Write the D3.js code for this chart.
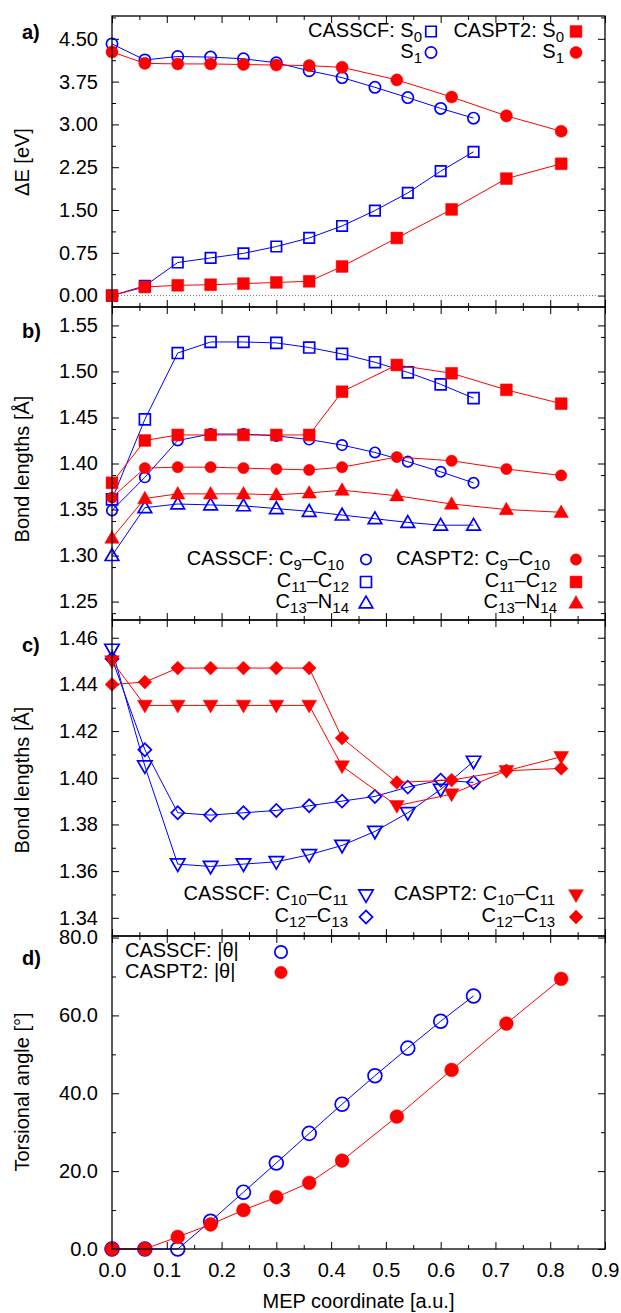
<!DOCTYPE html>
<html>
<head>
<meta charset="utf-8">
<script src="https://cdn.jsdelivr.net/npm/d3@7"></script>
<style>
  body { margin: 0; background: #fff; }
  svg { display: block; }
</style>
</head>
<body>
<svg id="chart" width="621" height="1313"></svg>
<script>
// MEP coordinates (CASSCF and CASPT2 paths are sampled differently)
var xSCF = [0.00, 0.06, 0.12, 0.18, 0.24, 0.30, 0.36, 0.42, 0.48, 0.54, 0.60, 0.66];
var xPT2 = [0.00, 0.06, 0.12, 0.18, 0.24, 0.30, 0.36, 0.42, 0.52, 0.62, 0.72, 0.82];

// a) energies [eV]
var scfS0 = [0.00, 0.17, 0.58, 0.66, 0.74, 0.86, 1.01, 1.22, 1.49, 1.80, 2.18, 2.52];
var scfS1 = [4.41, 4.13, 4.19, 4.18, 4.15, 4.08, 3.94, 3.82, 3.65, 3.47, 3.28, 3.11];
var pt2S0 = [0.00, 0.15, 0.18, 0.19, 0.21, 0.23, 0.25, 0.51, 1.01, 1.51, 2.05, 2.31];
var pt2S1 = [4.27, 4.07, 4.06, 4.06, 4.05, 4.04, 4.03, 4.00, 3.78, 3.48, 3.15, 2.88];

// b) bond lengths [A]
var scfC9C10  = [1.349, 1.385, 1.425, 1.432, 1.432, 1.430, 1.426, 1.420, 1.412, 1.402, 1.391, 1.379];
var scfC11C12 = [1.361, 1.448, 1.520, 1.532, 1.532, 1.531, 1.526, 1.519, 1.510, 1.499, 1.486, 1.471];
var scfC13N14 = [1.300, 1.352, 1.356, 1.355, 1.354, 1.351, 1.348, 1.344, 1.340, 1.336, 1.333, 1.333];
var pt2C9C10  = [1.363, 1.395, 1.396, 1.396, 1.395, 1.394, 1.393, 1.396, 1.407, 1.403, 1.394, 1.387];
var pt2C11C12 = [1.379, 1.425, 1.431, 1.431, 1.431, 1.431, 1.431, 1.478, 1.507, 1.498, 1.480, 1.465];
var pt2C13N14 = [1.319, 1.362, 1.367, 1.367, 1.367, 1.366, 1.368, 1.371, 1.365, 1.356, 1.350, 1.347];

// c) bond lengths [A]
var scfC10C11 = [1.455, 1.405, 1.363, 1.362, 1.363, 1.364, 1.367, 1.371, 1.377, 1.385, 1.395, 1.407];
var scfC12C13 = [1.451, 1.412, 1.385, 1.384, 1.385, 1.386, 1.388, 1.390, 1.392, 1.396, 1.399, 1.398];
var pt2C10C11 = [1.450, 1.431, 1.431, 1.431, 1.431, 1.431, 1.431, 1.405, 1.388, 1.393, 1.403, 1.409];
var pt2C12C13 = [1.440, 1.441, 1.447, 1.447, 1.447, 1.447, 1.447, 1.417, 1.398, 1.399, 1.403, 1.404];

// d) torsional angle [deg]
var scfTheta = [0.0, 0.0, 0.0, 7.1, 14.6, 22.1, 29.7, 37.2, 44.5, 51.6, 58.5, 65.0];
var pt2Theta = [0.0, 0.0, 3.1, 6.3, 10.0, 13.3, 17.0, 22.7, 34.0, 46.0, 57.9, 69.4];

// axis ticks
var xTicks = [0, 0.1, 0.2, 0.3, 0.4, 0.5, 0.6, 0.7, 0.8, 0.9];
var aTicks = [0, 0.75, 1.5, 2.25, 3.0, 3.75, 4.5];
var bTicks = [1.25, 1.30, 1.35, 1.40, 1.45, 1.50, 1.55];
var cTicks = [1.34, 1.36, 1.38, 1.40, 1.42, 1.44, 1.46];
var dTicks = [0, 20, 40, 60, 80];

var BLUE = '#0000ff', RED = '#ff0000';
var FONT = "'Liberation Sans', Arial, Helvetica, sans-serif";

var svg = d3.select('#chart');
var left = 112, right = 605;
var x = d3.scaleLinear().domain([0, 0.9]).range([left, right]);
var xMinor = d3.range(0.05, 0.9, 0.1);

// Writes a label like "C_9–C_10" with real subscripts.
function rich(sel, str) {
  var parts = str.split(/_(\d+)/);
  var low = false;
  parts.forEach(function(p, i) {
    if (!p) return;
    var t = sel.append('tspan').text(p);
    if (i % 2) {
      t.attr('font-size', 15).attr('dy', low ? 0 : 5);
      low = true;
    } else {
      t.attr('dy', low ? -5 : 0);
      low = false;
    }
  });
}

function symbolPath(kind, size) {
  var type = d3.symbolCircle;
  if (kind == 'square' || kind == 'diamond') type = d3.symbolSquare;
  if (kind == 'tri' || kind == 'tridown') type = d3.symbolTriangle;
  return d3.symbol().type(type).size(size)();
}

function marker(g, kind, cx, cy, color, filled, size) {
  var rot = kind == 'tridown' ? 180 : (kind == 'diamond' ? 45 : 0);
  var dy = kind == 'tri' ? 1 : (kind == 'tridown' ? -1 : 0);
  g.append('path')
    .attr('d', symbolPath(kind, size))
    .attr('transform', 'translate(' + cx + ',' + (cy + dy) + ') rotate(' + rot + ')')
    .attr('fill', filled ? color : 'none')
    .attr('stroke', color)
    .attr('stroke-width', filled ? 0.5 : 1.7);
}

function panel(cfg) {
  var y = d3.scaleLinear().domain(cfg.domain).range([cfg.bottom, cfg.top]);
  var g = svg.append('g');

  // ticks inward on all four sides
  function ticks(axis, vals, len, pos, labels, fmt, pad) {
    var a = axis.tickValues(vals).tickSize(-len).tickPadding(pad || 3)
      .tickFormat(labels ? fmt : '');
    var sel = g.append('g').attr('transform', pos).call(a);
    sel.select('.domain').remove();
    sel.selectAll('line').attr('stroke', '#000').attr('stroke-width', 1);
    sel.selectAll('text').attr('font-family', FONT).attr('font-size', 20).attr('fill', '#000');
    return sel;
  }
  var yMinor = cfg.minor;
  ticks(d3.axisLeft(y), cfg.ticks, 7, 'translate(' + left + ',0)', true, d3.format(cfg.fmt), 14);
  ticks(d3.axisLeft(y), yMinor, 4, 'translate(' + left + ',0)', false);
  ticks(d3.axisRight(y), cfg.ticks, 7, 'translate(' + right + ',0)', false);
  ticks(d3.axisRight(y), yMinor, 4, 'translate(' + right + ',0)', false);
  ticks(d3.axisTop(x), xTicks, 7, 'translate(0,' + cfg.top + ')', false);
  ticks(d3.axisTop(x), xMinor, 4, 'translate(0,' + cfg.top + ')', false);
  ticks(d3.axisBottom(x), xTicks, 7, 'translate(0,' + cfg.bottom + ')', cfg.xLabels, d3.format('.1f'), 14);
  ticks(d3.axisBottom(x), xMinor, 4, 'translate(0,' + cfg.bottom + ')', false);

  if (cfg.zeroLine) {
    g.append('line')
      .attr('x1', left).attr('x2', right)
      .attr('y1', y(0)).attr('y2', y(0))
      .attr('stroke', '#777').attr('stroke-width', 1)
      .attr('stroke-dasharray', '1,2');
  }

  // series: lines first, then markers
  var line = d3.line()
    .x(function(d) { return x(d[0]); })
    .y(function(d) { return y(d[1]); });
  cfg.series.forEach(function(s) {
    var pts = d3.zip(s.x, s.y);
    g.append('path')
      .attr('d', line(pts))
      .attr('fill', 'none')
      .attr('stroke', s.color)
      .attr('stroke-width', 1);
    pts.forEach(function(p) {
      marker(g, s.sym, x(p[0]), y(p[1]), s.color, s.filled, s.size);
    });
  });

  // frame
  g.append('rect')
    .attr('x', left).attr('y', cfg.top)
    .attr('width', right - left).attr('height', cfg.bottom - cfg.top)
    .attr('fill', 'none').attr('stroke', '#000').attr('stroke-width', 1.3);

  // legend
  cfg.legend.forEach(function(e) {
    var t = g.append('text')
      .attr('x', e.tx).attr('y', e.my + 5)
      .attr('text-anchor', e.anchor || 'end')
      .attr('font-family', FONT).attr('font-size', 20);
    rich(t, e.label);
    marker(g, e.sym, e.mx, e.my, e.color, e.filled, e.size);
  });

  // panel letter and y title
  g.append('text')
    .attr('x', 22).attr('y', cfg.letterY)
    .attr('font-family', FONT).attr('font-size', 20).attr('font-weight', 'bold')
    .text(cfg.letter);
  g.append('text')
    .attr('transform', 'translate(29,' + cfg.titleY + ') rotate(-90)')
    .attr('text-anchor', 'middle')
    .attr('font-family', FONT).attr('font-size', 20)
    .text(cfg.title);
}

panel({
  top: 16, bottom: 307, domain: [-0.2, 4.9],
  ticks: aTicks, minor: d3.range(0.375, 4.9, 0.75), fmt: '.2f',
  letter: 'a)', letterY: 39, title: '\u0394E [eV]', titleY: 162, zeroLine: true,
  series: [
    {x: xSCF, y: scfS0, color: BLUE, sym: 'square', filled: false, size: 110},
    {x: xSCF, y: scfS1, color: BLUE, sym: 'circle', filled: false, size: 100},
    {x: xPT2, y: pt2S0, color: RED, sym: 'square', filled: true, size: 140},
    {x: xPT2, y: pt2S1, color: RED, sym: 'circle', filled: true, size: 115}
  ],
  legend: [
    {label: 'CASSCF: S_0', tx: 422, mx: 431, my: 31.5, sym: 'square', color: BLUE, filled: false, size: 110},
    {label: 'S_1', tx: 422, mx: 431, my: 52.5, sym: 'circle', color: BLUE, filled: false, size: 100},
    {label: 'CASPT2: S_0', tx: 564, mx: 576, my: 31.5, sym: 'square', color: RED, filled: true, size: 140},
    {label: 'S_1', tx: 564, mx: 576, my: 52.5, sym: 'circle', color: RED, filled: true, size: 115}
  ]
});

panel({
  top: 307, bottom: 620, domain: [1.23, 1.57],
  ticks: bTicks, minor: d3.range(1.2375, 1.57, 0.05), fmt: '.2f',
  letter: 'b)', letterY: 338, title: 'Bond lengths [\u00c5]', titleY: 469,
  series: [
    {x: xSCF, y: scfC9C10, color: BLUE, sym: 'circle', filled: false, size: 85},
    {x: xSCF, y: scfC11C12, color: BLUE, sym: 'square', filled: false, size: 120},
    {x: xSCF, y: scfC13N14, color: BLUE, sym: 'tri', filled: false, size: 80},
    {x: xPT2, y: pt2C9C10, color: RED, sym: 'circle', filled: true, size: 100},
    {x: xPT2, y: pt2C11C12, color: RED, sym: 'square', filled: true, size: 140},
    {x: xPT2, y: pt2C13N14, color: RED, sym: 'tri', filled: true, size: 90}
  ],
  legend: [
    {label: 'CASSCF: C_9\u2013C_10', tx: 344, mx: 366, my: 559.5, sym: 'circle', color: BLUE, filled: false, size: 85},
    {label: 'C_11\u2013C_12', tx: 349, mx: 366, my: 582, sym: 'square', color: BLUE, filled: false, size: 120},
    {label: 'C_13\u2013N_14', tx: 349, mx: 366, my: 603, sym: 'tri', color: BLUE, filled: false, size: 80},
    {label: 'CASPT2: C_9\u2013C_10', tx: 550, mx: 576, my: 559.5, sym: 'circle', color: RED, filled: true, size: 100},
    {label: 'C_11\u2013C_12', tx: 557, mx: 576, my: 582, sym: 'square', color: RED, filled: true, size: 140},
    {label: 'C_13\u2013N_14', tx: 557, mx: 576, my: 603, sym: 'tri', color: RED, filled: true, size: 90}
  ]
});

panel({
  top: 620, bottom: 936, domain: [1.3322, 1.4676],
  ticks: cTicks, minor: d3.range(1.35, 1.46, 0.02), fmt: '.2f',
  letter: 'c)', letterY: 652, title: 'Bond lengths [\u00c5]', titleY: 780,
  series: [
    {x: xSCF, y: scfC10C11, color: BLUE, sym: 'tridown', filled: false, size: 90},
    {x: xSCF, y: scfC12C13, color: BLUE, sym: 'diamond', filled: false, size: 85},
    {x: xPT2, y: pt2C10C11, color: RED, sym: 'tridown', filled: true, size: 95},
    {x: xPT2, y: pt2C12C13, color: RED, sym: 'diamond', filled: true, size: 95}
  ],
  legend: [
    {label: 'CASSCF: C_10\u2013C_11', tx: 348, mx: 366, my: 895, sym: 'tridown', color: BLUE, filled: false, size: 90},
    {label: 'C_12\u2013C_13', tx: 348, mx: 366, my: 917, sym: 'diamond', color: BLUE, filled: false, size: 85},
    {label: 'CASPT2: C_10\u2013C_11', tx: 555, mx: 576, my: 895, sym: 'tridown', color: RED, filled: true, size: 95},
    {label: 'C_12\u2013C_13', tx: 555, mx: 576, my: 917, sym: 'diamond', color: RED, filled: true, size: 95}
  ]
});

panel({
  top: 936, bottom: 1249, domain: [0, 80.4],
  ticks: dTicks, minor: [10, 30, 50, 70], fmt: '.1f',
  letter: 'd)', letterY: 965, title: 'Torsional angle [\u00b0]', titleY: 1092,
  xLabels: true,
  series: [
    {x: xSCF, y: scfTheta, color: BLUE, sym: 'circle', filled: false, size: 150},
    {x: xPT2, y: pt2Theta, color: RED, sym: 'circle', filled: true, size: 150}
  ],
  legend: [
    {label: 'CASSCF: |\u03b8|', anchor: 'start', tx: 125, mx: 281, my: 952, sym: 'circle', color: BLUE, filled: false, size: 120},
    {label: 'CASPT2: |\u03b8|', anchor: 'start', tx: 125, mx: 281, my: 972.5, sym: 'circle', color: RED, filled: true, size: 120}
  ]
});

// x axis title
svg.append('text')
  .attr('x', (left + right) / 2).attr('y', 1308)
  .attr('text-anchor', 'middle')
  .attr('font-family', FONT).attr('font-size', 20)
  .text('MEP coordinate [a.u.]');
</script>
</body>
</html>
